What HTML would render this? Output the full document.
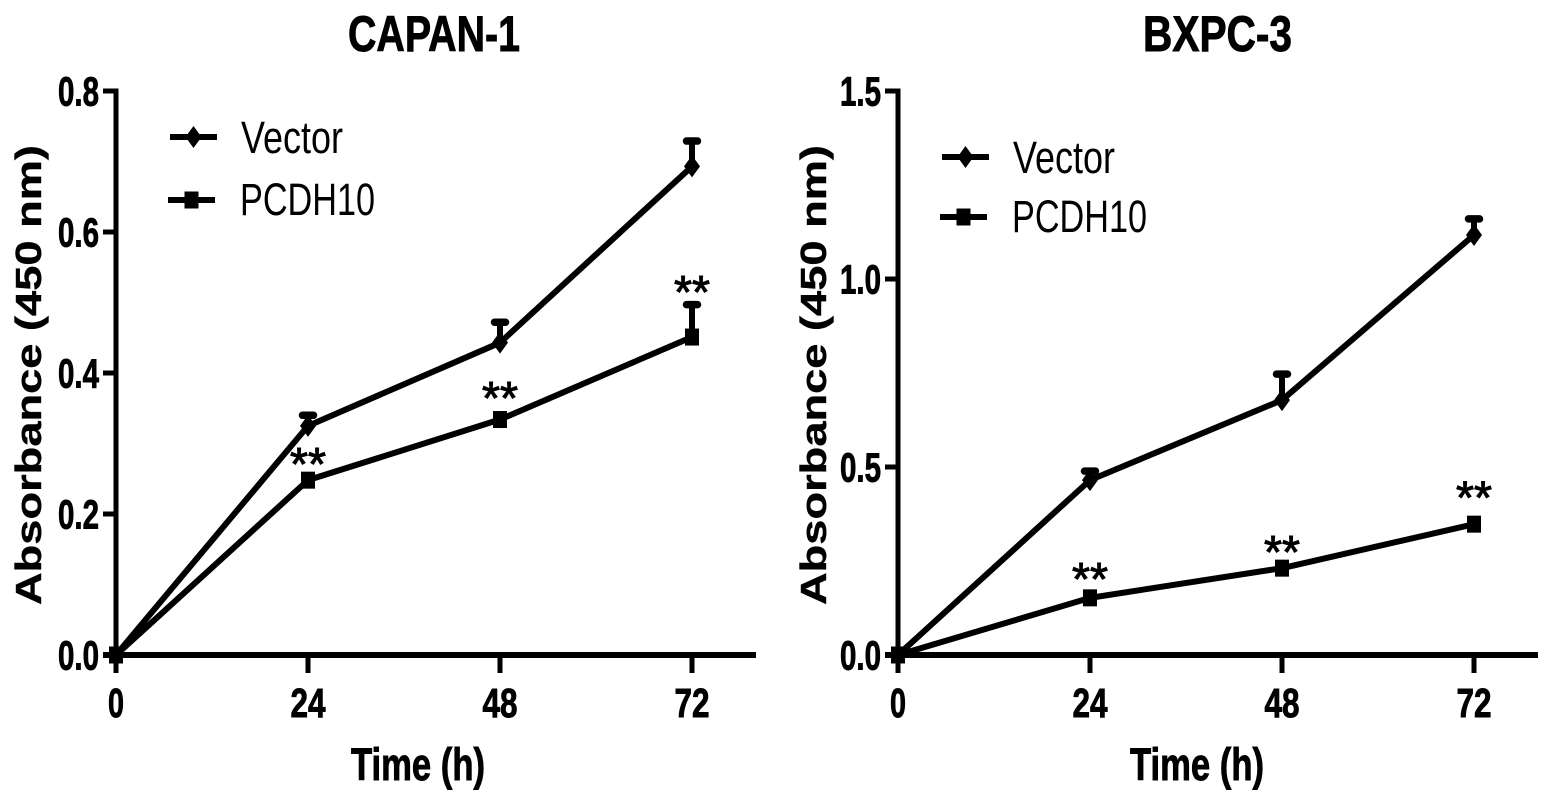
<!DOCTYPE html>
<html lang="en">
<head>
<meta charset="utf-8">
<title>Absorbance over time: CAPAN-1 and BXPC-3</title>
<style>
html,body{margin:0;padding:0;background:#fff;}
body{width:1552px;height:802px;overflow:hidden;}
svg{display:block;}
text{fill:#000;font-family:"Liberation Sans",sans-serif;}
</style>
</head>
<body>
<svg id="figure" xmlns="http://www.w3.org/2000/svg" width="1552" height="802" viewBox="0 0 1552 802"></svg>
<script>
// Shared x categories
const timeCategories = [0, 24, 48, 72];
const xAxisMax = 80;
const seriesNames = ['Vector', 'PCDH10'];

// CAPAN-1 data
const capanYTicks = [0.0, 0.2, 0.4, 0.6, 0.8];
const capanYTickLabels = ['0.0', '0.2', '0.4', '0.6', '0.8'];
const capanVector = [0, 0.325, 0.443, 0.693];
const capanVectorErrorTop = [0, 0.340, 0.472, 0.729];
const capanPcdh10 = [0, 0.248, 0.334, 0.451];
const capanPcdh10ErrorTop = [0, 0.248, 0.334, 0.497];
const capanStarLevels = [null, 0.282, 0.376, 0.526];

// BXPC-3 data
const bxpcYTicks = [0.0, 0.5, 1.0, 1.5];
const bxpcYTickLabels = ['0.0', '0.5', '1.0', '1.5'];
const bxpcVector = [0, 0.465, 0.678, 1.117];
const bxpcVectorErrorTop = [0, 0.489, 0.747, 1.160];
const bxpcPcdh10 = [0, 0.152, 0.231, 0.348];
const bxpcPcdh10ErrorTop = [0, 0.152, 0.231, 0.348];
const bxpcStarLevels = [null, 0.223, 0.295, 0.440];

const svg = document.getElementById('figure');
const NS = 'http://www.w3.org/2000/svg';

function make(parent, tag, attrs, name, content) {
  const el = document.createElementNS(NS, tag);
  for (const k in attrs) el.setAttribute(k, attrs[k]);
  
  
  if (content !== undefined) el.textContent = content;
  parent.appendChild(el);
  return el;
}

function fitText(parent, str, x, y, size, width, weight, name, extra) {
  const attrs = Object.assign({
    x: x, y: y, 'font-size': size, 'font-weight': weight,
    textLength: width, lengthAdjust: 'spacingAndGlyphs'
  }, extra || {});
  return make(parent, 'text', attrs, name, str);
}

const heavy = {stroke: '#000', 'stroke-width': 0.9};

function drawDiamond(parent, cx, cy, name) {
  const pts = [[cx, cy - 11], [cx + 8, cy], [cx, cy + 11], [cx - 8, cy]].map(p => p.join(',')).join(' ');
  make(parent, 'polygon', {points: pts, fill: '#000'}, name);
}

function drawSquare(parent, cx, cy, name) {
  make(parent, 'rect', {x: cx - 7, y: cy - 8.5, width: 14, height: 17, fill: '#000'}, name);
}

function drawPanel(cfg) {
  const g = make(svg, 'g', {}, cfg.id + '-panel');
  const x = t => cfg.x0 + (t / xAxisMax) * cfg.xSpan;
  const y = v => cfg.yBase - (v / cfg.yMax) * cfg.ySpan;
  const W = 5;

  fitText(g, cfg.title, cfg.titleX, 51, 50, cfg.titleW, 'bold', cfg.id + '-title', heavy);
  fitText(g, 'Time (h)', cfg.timeX, 780, 45, 134, 'bold', cfg.id + '-x-axis-title', heavy);
  const yt = cfg.yTitleX;
  fitText(g, 'Absorbance (450 nm)', 0, 0, 36, 460, 'bold', cfg.id + '-y-axis-title',
    {transform: 'translate(' + yt + ',605) rotate(-90)', stroke: '#000', 'stroke-width': 0.4});

  // axes
  make(g, 'line', {x1: cfg.x0, x2: cfg.x0, y1: y(cfg.yMax) - W / 2, y2: cfg.yBase + 18, stroke: '#000', 'stroke-width': W}, cfg.id + '-y-axis');
  make(g, 'line', {x1: cfg.x0 - 13, x2: x(xAxisMax), y1: cfg.yBase, y2: cfg.yBase, stroke: '#000', 'stroke-width': 6}, cfg.id + '-x-axis');

  cfg.yTicks.forEach((v, i) => {
    make(g, 'line', {x1: cfg.x0 - 13, x2: cfg.x0, y1: y(v), y2: y(v), stroke: '#000', 'stroke-width': W}, cfg.id + '-y-tick');
    fitText(g, cfg.yLabels[i], cfg.x0 - 58, y(v) + 14.5, 41, 41, 'bold', cfg.id + '-y-tick-label', heavy);
  });
  timeCategories.forEach(t => {
    make(g, 'line', {x1: x(t), x2: x(t), y1: cfg.yBase, y2: cfg.yBase + 18, stroke: '#000', 'stroke-width': W}, cfg.id + '-x-tick');
    const s = String(t);
    const w = s.length === 1 ? 16 : 35;
    fitText(g, s, x(t) - w / 2, 717, 41, w, 'bold', cfg.id + '-x-tick-label', heavy);
  });

  // series
  const series = [
    {key: 'vector', vals: cfg.vector, err: cfg.vectorErr, marker: drawDiamond},
    {key: 'pcdh10', vals: cfg.pcdh10, err: cfg.pcdh10Err, marker: drawSquare}
  ];
  series.forEach(s => {
    const sg = make(g, 'g', {}, cfg.id + '-' + s.key + '-series');
    s.err.forEach((e, i) => {
      if (e <= s.vals[i]) return;
      const ex = x(timeCategories[i]);
      make(sg, 'line', {x1: ex, x2: ex, y1: y(s.vals[i]), y2: y(e), stroke: '#000', 'stroke-width': 6}, cfg.id + '-' + s.key + '-error-bar');
      make(sg, 'line', {x1: ex - 5.5, x2: ex + 5.5, y1: y(e), y2: y(e), stroke: '#000', 'stroke-width': 7.5, 'stroke-linecap': 'round'}, cfg.id + '-' + s.key + '-error-cap');
    });
    const pts = s.vals.map((v, i) => x(timeCategories[i]) + ',' + y(v)).join(' ');
    make(sg, 'polyline', {points: pts, fill: 'none', stroke: '#000', 'stroke-width': 6, 'stroke-linejoin': 'round'}, cfg.id + '-' + s.key + '-line');
    s.vals.forEach((v, i) => {
      s.marker(sg, x(timeCategories[i]), y(v), cfg.id + '-' + s.key + '-point');
    });
  });

  // significance stars
  cfg.stars.forEach((lvl, i) => {
    if (lvl === null) return;
    fitText(g, '**', x(timeCategories[i]) - 18, y(lvl) + 24, 46, 36, 'normal', cfg.id + '-significance-stars', {stroke: '#000', 'stroke-width': 1});
  });

  // legend
  cfg.legend.forEach((l, i) => {
    const lg = make(g, 'g', {}, cfg.id + '-legend-entry');
    make(lg, 'line', {x1: l.lx, x2: l.lx + 47, y1: l.ly, y2: l.ly, stroke: '#000', 'stroke-width': 6}, cfg.id + '-legend-line');
    (i === 0 ? drawDiamond : drawSquare)(lg, l.lx + 23.5, l.ly, cfg.id + '-legend-marker');
    fitText(lg, seriesNames[i], l.tx, l.ty, 45, l.tw, 'normal', cfg.id + '-legend-label');
  });
}

drawPanel({
  id: 'capan', title: 'CAPAN-1', titleX: 348, titleW: 172, yTitleX: 41, timeX: 351,
  x0: 116, xSpan: 640, yBase: 655, ySpan: 564, yMax: 0.8,
  yTicks: capanYTicks, yLabels: capanYTickLabels,
  vector: capanVector, vectorErr: capanVectorErrorTop,
  pcdh10: capanPcdh10, pcdh10Err: capanPcdh10ErrorTop,
  stars: capanStarLevels,
  legend: [
    {lx: 170, ly: 137, tx: 241, ty: 153, tw: 102},
    {lx: 168, ly: 200, tx: 240, ty: 215, tw: 135}
  ]
});

drawPanel({
  id: 'bxpc', title: 'BXPC-3', titleX: 1143, titleW: 149, yTitleX: 826, timeX: 1130,
  x0: 898, xSpan: 640, yBase: 655, ySpan: 564, yMax: 1.5,
  yTicks: bxpcYTicks, yLabels: bxpcYTickLabels,
  vector: bxpcVector, vectorErr: bxpcVectorErrorTop,
  pcdh10: bxpcPcdh10, pcdh10Err: bxpcPcdh10ErrorTop,
  stars: bxpcStarLevels,
  legend: [
    {lx: 942, ly: 157, tx: 1013, ty: 173, tw: 102},
    {lx: 940, ly: 217, tx: 1012, ty: 232, tw: 135}
  ]
});
</script>
</body>
</html>
